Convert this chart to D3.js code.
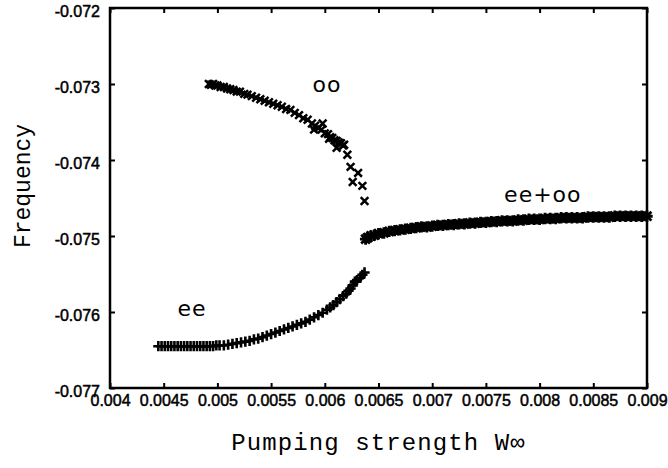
<!DOCTYPE html>
<html lang="en">
  <head>
    <meta charset="utf-8">
    <title>Frequency vs pumping strength</title>
    <script src="https://cdn.jsdelivr.net/npm/d3@7"></script>
    <style>
      body { margin: 0; background: #fff; }
    </style>
  </head>
  <body>
    <div id="chart"></div>

    <script>
      // oo branch (x markers)
      let ooX = [0.00492,0.00494,0.00496,0.00498,0.00500,0.00503,0.00506,0.00509,0.00512,0.00515,
                 0.00518,0.00521,0.00525,0.00528,0.00532,0.00536,0.00540,0.00544,0.00548,0.00552,
                 0.00556,0.00560,0.00564,0.00568,0.00572,0.00576,0.00580,0.00584,0.00588,0.00591,
                 0.00594,0.00597,0.00600,0.00603,0.00605,0.00607,0.00609,0.00611,0.00613,0.00615,
                 0.00617,0.00618,0.00590,0.00598,0.00604,
                 0.00611,0.00621,0.00624,0.00631,0.00626,0.00635,0.00637]
      let ooY = [-0.07300,-0.07301,-0.07300,-0.07302,-0.07302,-0.07304,-0.07304,-0.07306,-0.07307,-0.07308,
                 -0.07310,-0.07310,-0.07313,-0.07314,-0.07316,-0.07318,-0.07320,-0.07322,-0.07324,-0.07326,
                 -0.07328,-0.07330,-0.07333,-0.07334,-0.07338,-0.07341,-0.07345,-0.07347,-0.07352,-0.07355,
                 -0.07358,-0.07360,-0.07365,-0.07366,-0.07370,-0.07371,-0.07374,-0.07375,-0.07377,-0.07378,
                 -0.07381,-0.07380,-0.07360,-0.07352,-0.07372,
                 -0.07384,-0.07393,-0.07409,-0.07417,-0.07429,-0.07434,-0.07454]

      // ee branch (+ markers)
      let eeX = [0.00445,0.00448,0.00451,0.00454,0.00457,0.00460,0.00463,0.00466,0.00469,0.00472,
                 0.00475,0.00478,0.00481,0.00484,0.00487,0.00490,0.00493,0.00496,0.00499,0.00502,
                 0.00506,0.00510,0.00514,0.00518,0.00522,0.00526,0.00530,0.00534,0.00538,0.00542,
                 0.00546,0.00550,0.00554,0.00558,0.00562,0.00566,0.00570,0.00574,0.00578,0.00582,
                 0.00586,0.00590,0.00594,0.00598,0.00602,0.00605,0.00608,0.00611,0.00614,0.00617,
                 0.00620,0.00622,0.00624,0.00626,0.00628,0.00630,0.00633,0.00635,0.00637]
      let eeY = [-0.07645,-0.07645,-0.07645,-0.07645,-0.07645,-0.07645,-0.07645,-0.07645,-0.07645,-0.07645,
                 -0.07645,-0.07645,-0.07645,-0.07645,-0.07645,-0.07645,-0.07645,-0.07645,-0.07644,-0.07644,
                 -0.07644,-0.07643,-0.07642,-0.07641,-0.07640,-0.07639,-0.07638,-0.07636,-0.07635,-0.07633,
                 -0.07631,-0.07629,-0.07627,-0.07625,-0.07623,-0.07621,-0.07619,-0.07617,-0.07615,-0.07613,
                 -0.07610,-0.07607,-0.07604,-0.07601,-0.07597,-0.07594,-0.07591,-0.07587,-0.07583,-0.07579,
                 -0.07576,-0.07572,-0.07569,-0.07565,-0.07560,-0.07558,-0.07555,-0.07551,-0.07548]

      // ee+oo branch (both markers)
      let mixX = [0.00638,0.00640,0.00643,0.00646,0.00650,0.00655,0.00660,0.00665,0.00670,0.00675,
                  0.00680,0.00685,0.00690,0.00695,0.00700,0.00705,0.00710,0.00715,0.00720,0.00725,
                  0.00730,0.00735,0.00740,0.00745,0.00750,0.00755,0.00760,0.00765,0.00770,0.00775,
                  0.00780,0.00785,0.00790,0.00795,0.00800,0.00805,0.00810,0.00815,0.00820,0.00825,
                  0.00830,0.00835,0.00840,0.00845,0.00850,0.00855,0.00860,0.00865,0.00870,0.00875,
                  0.00880,0.00885,0.00890,0.00895,0.00900]
      let mixY = [-0.07504,-0.07502,-0.07500,-0.07499,-0.07497,-0.07496,-0.07494,-0.07493,-0.07492,-0.07491,
                  -0.07490,-0.07489,-0.07488,-0.07488,-0.07487,-0.07486,-0.07486,-0.07485,-0.07485,-0.07484,
                  -0.07484,-0.07483,-0.07483,-0.07482,-0.07482,-0.07481,-0.07481,-0.07480,-0.07480,-0.07480,
                  -0.07479,-0.07479,-0.07478,-0.07478,-0.07478,-0.07477,-0.07477,-0.07477,-0.07476,-0.07476,
                  -0.07476,-0.07476,-0.07476,-0.07475,-0.07475,-0.07475,-0.07475,-0.07475,-0.07474,-0.07474,
                  -0.07474,-0.07474,-0.07474,-0.07474,-0.07474]

      let xTicks = [0.004,0.0045,0.005,0.0055,0.006,0.0065,0.007,0.0075,0.008,0.0085,0.009]
      let yTicks = [-0.072,-0.073,-0.074,-0.075,-0.076,-0.077]

      let labels = [
        {text: 'oo', x: 0.00602, y: -0.07301},
        {text: 'ee', x: 0.004763, y: -0.07595},
        {text: 'ee+oo', x: 0.00803, y: -0.07446}
      ]

      let margin = {top: 8, right: 21, bottom: 80, left: 110}
      let width = 668 - margin.left - margin.right
      let height = 468 - margin.top - margin.bottom

      let svg = d3.select('#chart').append('svg')
        .attr('width', 668)
        .attr('height', 468)
      let canvas = svg.append('g')
        .attr('transform', 'translate(' + margin.left + ',' + margin.top + ')')

      let scale_x = d3.scaleLinear().domain([0.004, 0.009]).range([0, width])
      let scale_y = d3.scaleLinear().domain([-0.077, -0.072]).range([height, 0])

      let tickFont = '"Liberation Sans", Arial, sans-serif'

      // axes, ticks pointing inward
      let x_axis = d3.axisBottom(scale_x).tickValues(xTicks).tickSizeInner(-5).tickSizeOuter(0)
        .tickPadding(7).tickFormat(d => String(+d.toFixed(4)))
      let gx = canvas.append('g').attr('transform', 'translate(0,' + height + ')').call(x_axis)

      let y_axis = d3.axisLeft(scale_y).tickValues(yTicks).tickSizeInner(-5).tickSizeOuter(0)
        .tickPadding(10).tickFormat(d => d.toFixed(3))
      let gy = canvas.append('g').call(y_axis)

      let gt = canvas.append('g')
        .call(d3.axisTop(scale_x).tickValues(xTicks).tickSizeInner(-5).tickSizeOuter(0).tickFormat(''))
      let gr = canvas.append('g').attr('transform', 'translate(' + width + ',0)')
        .call(d3.axisRight(scale_y).tickValues(yTicks).tickSizeInner(-5).tickSizeOuter(0).tickFormat(''))

      ;[gx, gy, gt, gr].forEach(g => {
        g.select('.domain').remove()
        g.selectAll('.tick line').attr('stroke', '#000').attr('stroke-width', 2)
        g.selectAll('.tick text')
          .attr('fill', '#000')
          .attr('font-family', tickFont)
          .attr('font-size', '16px')
          .attr('stroke', '#000')
          .attr('stroke-width', 0.5)
      })
      gy.selectAll('.tick text').attr('dy', '0.5em')

      canvas.append('rect')
        .attr('x', 0).attr('y', 0)
        .attr('width', width).attr('height', height)
        .attr('fill', 'none')
        .attr('stroke', '#000')
        .attr('stroke-width', 2.5)

      function drawPoints(xs, ys, shapes, sw) {
        let pts = xs.map((x, i) => ({x: x, y: ys[i]}))
        shapes.forEach(shape => {
          canvas.append('g')
            .selectAll('path')
            .data(pts)
            .enter()
            .append('path')
            .attr('transform', d => 'translate(' + scale_x(d.x) + ',' + scale_y(d.y) + ')')
            .attr('d', shape)
            .attr('fill', 'none')
            .attr('stroke', '#000')
            .attr('stroke-width', sw)
        })
      }

      drawPoints(ooX, ooY, [d3.symbol(d3.symbolTimes, 40)], 2.5)
      drawPoints(eeX, eeY, [d3.symbol(d3.symbolPlus, 36)], 2.6)
      drawPoints(mixX, mixY, [d3.symbol(d3.symbolPlus, 44), d3.symbol(d3.symbolTimes, 52)], 2.8)

      canvas.selectAll('.branch-label')
        .data(labels)
        .enter()
        .append('text')
        .attr('class', 'branch-label')
        .attr('x', d => scale_x(d.x))
        .attr('y', d => scale_y(d.y))
        .attr('text-anchor', 'middle')
        .attr('dominant-baseline', 'central')
        .attr('font-family', '"DejaVu Sans", sans-serif')
        .attr('font-size', '22px')
        .attr('letter-spacing', '1px')
        .text(d => d.text)

      // axis titles
      svg.append('text')
        .attr('x', margin.left + width / 2)
        .attr('y', 450)
        .attr('text-anchor', 'middle')
        .attr('font-family', '"Liberation Mono", "Courier New", monospace')
        .attr('font-size', '24px')
        .attr('letter-spacing', '1.1px')
        .text('Pumping strength W\u221E')

      svg.append('text')
        .attr('transform', 'translate(30,186) rotate(-90)')
        .attr('text-anchor', 'middle')
        .attr('font-family', '"Liberation Mono", "Courier New", monospace')
        .attr('font-size', '23px')
        .text('Frequency')
    </script>
  </body>
</html>
